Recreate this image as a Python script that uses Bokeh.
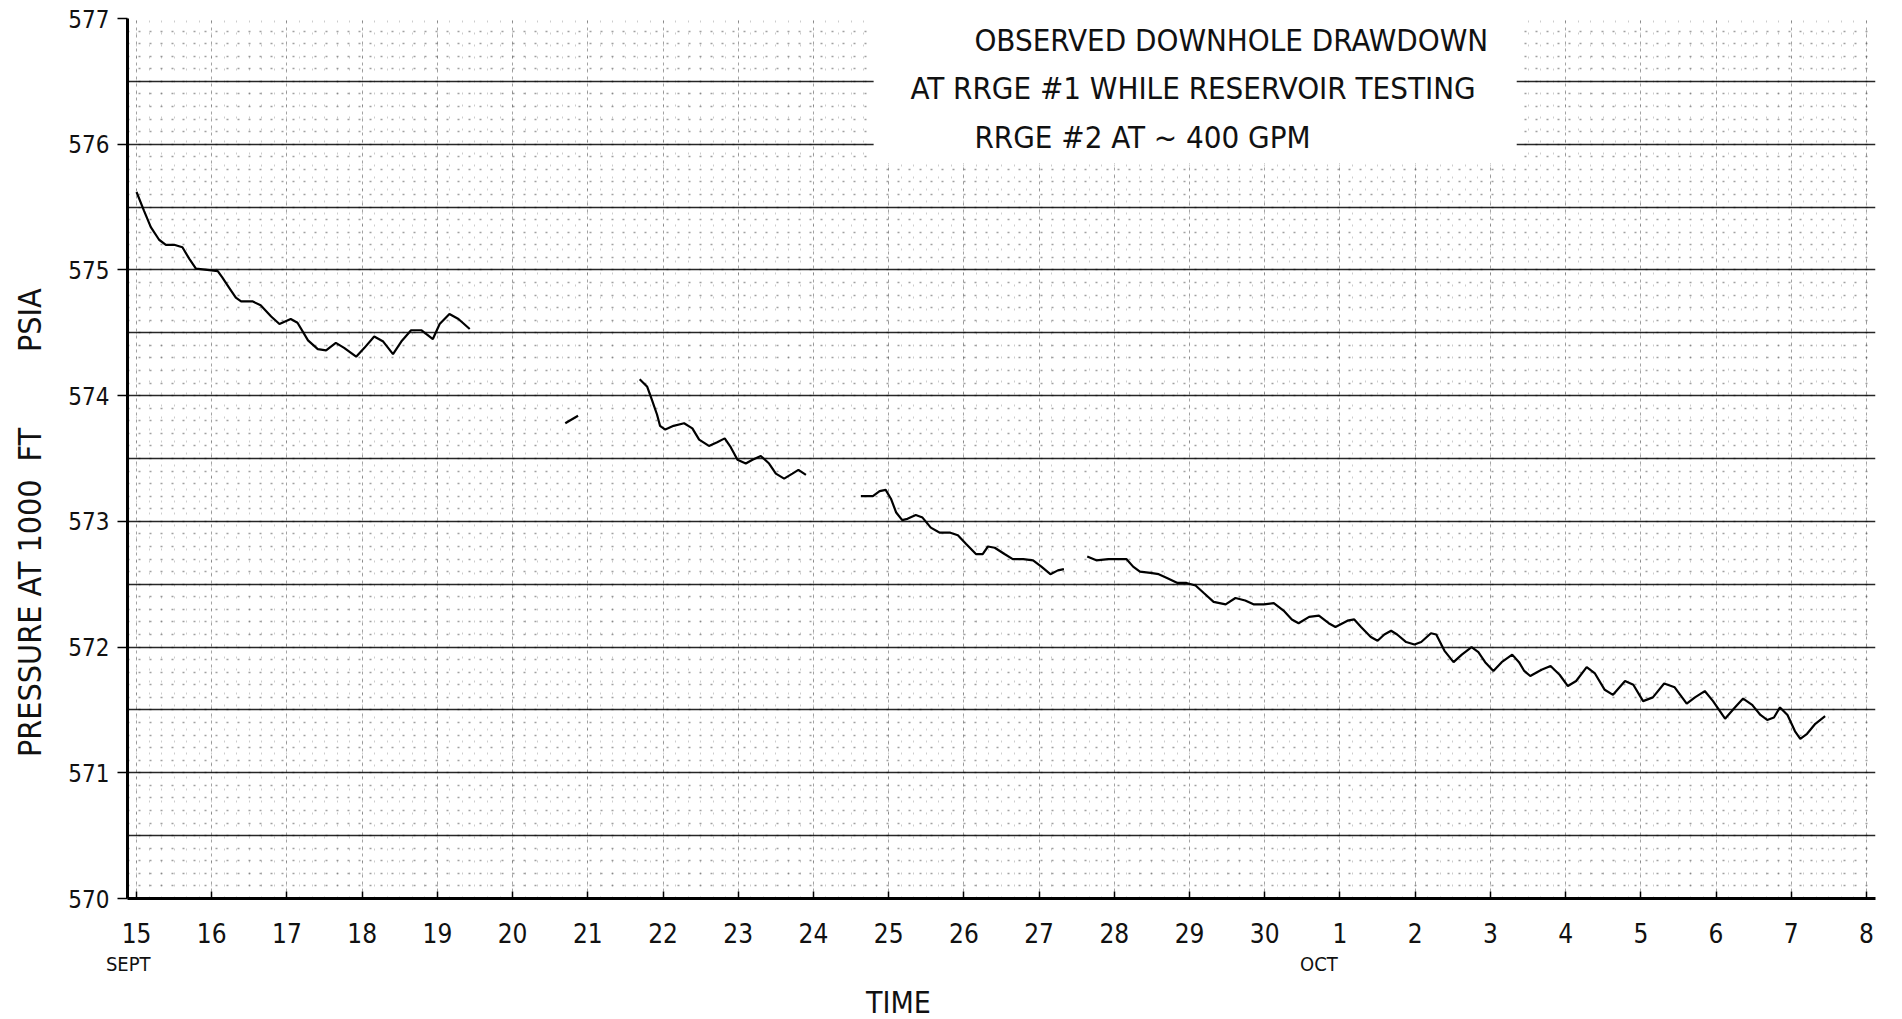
import math
from bokeh.plotting import figure
from bokeh.models import SingleIntervalTicker, FixedTicker, Label, BoxAnnotation, LinearAxis
from bokeh.embed import file_html
from bokeh.resources import INLINE

# ---------------- data (day offset from Sept 15, pressure psia) ----------------
day_labels = ["15", "16", "17", "18", "19", "20", "21", "22", "23", "24", "25",
              "26", "27", "28", "29", "30", "1", "2", "3", "4", "5", "6", "7", "8"]
psi_ticks = [570, 571, 572, 573, 574, 575, 576, 577]
psi_tick_labels = ["570", "571", "572", "573", "574", "575", "576", "577"]

seg1_day = [0.00, 0.10, 0.19, 0.30, 0.39, 0.50, 0.61, 0.70, 0.79, 0.94, 1.08, 1.14,
            1.23, 1.32, 1.39, 1.54, 1.65, 1.79, 1.90, 2.05, 2.14, 2.28, 2.41, 2.52,
            2.65, 2.76, 2.92, 3.03, 3.16, 3.28, 3.41, 3.52, 3.65, 3.79, 3.94, 4.03,
            4.16, 4.28, 4.43]
seg1_psi = [575.62, 575.47, 575.34, 575.24, 575.20, 575.20, 575.18, 575.09, 575.01,
            575.00, 574.99, 574.94, 574.86, 574.78, 574.75, 574.75, 574.72, 574.63,
            574.57, 574.61, 574.58, 574.44, 574.37, 574.36, 574.42, 574.38, 574.31,
            574.38, 574.47, 574.43, 574.33, 574.43, 574.52, 574.52, 574.45, 574.57,
            574.65, 574.61, 574.53]

seg2_day = [5.70, 5.87]
seg2_psi = [573.78, 573.84]

seg3_day = [6.69, 6.79, 6.85, 6.92, 6.96, 7.03, 7.14, 7.28, 7.39, 7.48, 7.61, 7.72,
            7.82, 7.90, 7.99, 8.10, 8.19, 8.30, 8.41, 8.50, 8.61, 8.72, 8.80, 8.90]
seg3_psi = [574.13, 574.07, 573.97, 573.85, 573.76, 573.73, 573.76, 573.78, 573.74,
            573.65, 573.60, 573.63, 573.66, 573.59, 573.49, 573.46, 573.49, 573.52,
            573.46, 573.38, 573.34, 573.38, 573.41, 573.37]

seg4_day = [9.63, 9.79, 9.88, 9.96, 10.03, 10.10, 10.18, 10.25, 10.36, 10.45, 10.56,
            10.68, 10.82, 10.92, 11.03, 11.16, 11.25, 11.32, 11.41, 11.54, 11.65,
            11.79, 11.92, 12.03, 12.15, 12.25, 12.33]
seg4_psi = [573.20, 573.20, 573.24, 573.25, 573.18, 573.07, 573.01, 573.02, 573.05,
            573.03, 572.95, 572.91, 572.91, 572.89, 572.82, 572.74, 572.74, 572.80,
            572.79, 572.74, 572.70, 572.70, 572.69, 572.64, 572.58, 572.61, 572.62]

seg5_day = [12.64, 12.76, 12.92, 13.03, 13.16, 13.25, 13.34, 13.48, 13.59, 13.70,
            13.84, 13.96, 14.08, 14.19, 14.32, 14.48, 14.61, 14.74, 14.85, 14.99,
            15.12, 15.25, 15.36, 15.45, 15.59, 15.72, 15.85, 15.94, 16.10, 16.19,
            16.28, 16.41, 16.50, 16.59, 16.68, 16.76, 16.88, 16.99, 17.08, 17.21,
            17.28, 17.39, 17.51, 17.62, 17.75, 17.84, 17.93, 18.04, 18.15, 18.29,
            18.38, 18.45, 18.53, 18.68, 18.80, 18.92, 19.03, 19.14, 19.28, 19.39,
            19.52, 19.63, 19.79, 19.90, 20.03, 20.16, 20.31, 20.45, 20.61, 20.72,
            20.85, 20.96, 21.12, 21.25, 21.36, 21.48, 21.59, 21.68, 21.77, 21.85,
            21.95, 22.05, 22.12, 22.21, 22.32, 22.45]
seg5_psi = [572.72, 572.69, 572.70, 572.70, 572.70, 572.64, 572.60, 572.59, 572.58,
            572.55, 572.51, 572.51, 572.49, 572.43, 572.36, 572.34, 572.39, 572.37,
            572.34, 572.34, 572.35, 572.29, 572.22, 572.19, 572.24, 572.25, 572.19,
            572.16, 572.21, 572.22, 572.16, 572.08, 572.05, 572.10, 572.13, 572.10,
            572.04, 572.02, 572.04, 572.11, 572.10, 571.97, 571.88, 571.94, 572.00,
            571.96, 571.88, 571.81, 571.88, 571.94, 571.88, 571.81, 571.77, 571.82,
            571.85, 571.78, 571.69, 571.73, 571.84, 571.79, 571.66, 571.62, 571.73,
            571.70, 571.57, 571.60, 571.71, 571.68, 571.55, 571.60, 571.65, 571.57,
            571.43, 571.52, 571.59, 571.54, 571.46, 571.42, 571.44, 571.52, 571.46,
            571.33, 571.27, 571.31, 571.39, 571.45]

segments = [(seg1_day, seg1_psi), (seg2_day, seg2_psi), (seg3_day, seg3_psi),
            (seg4_day, seg4_psi), (seg5_day, seg5_psi)]

title_lines = ["OBSERVED DOWNHOLE DRAWDOWN",
               "AT RRGE #1  WHILE RESERVOIR TESTING",
               "RRGE #2 AT ~ 400 GPM"]
ylabel_parts = ["PRESSURE AT 1000", "FT", "PSIA"]
month_labels = ["SEPT", "OCT"]
xlabel_text = "TIME"

FONT = "DejaVu Sans Condensed, Liberation Sans Narrow, Liberation Sans, sans-serif"
INK = "#111111"

# ---------------- figure ----------------
p = figure(frame_width=1748, frame_height=880,
           x_range=(-0.12, 23.12), y_range=(570, 577),
           min_border_left=127, min_border_right=20,
           min_border_top=18, min_border_bottom=114,
           output_backend="svg", toolbar_location=None,
           background_fill_color="white", border_fill_color="white")
p.outline_line_color = None

# grid (graph paper look)
p.ygrid.ticker = SingleIntervalTicker(interval=0.5, num_minor_ticks=5)
p.ygrid.grid_line_color = "black"
p.ygrid.grid_line_width = 1.5
p.ygrid.grid_line_alpha = 0.85
p.ygrid.minor_grid_line_color = "#444444"
p.ygrid.minor_grid_line_dash = "2 9"
p.ygrid.minor_grid_line_width = 1.5
p.ygrid.minor_grid_line_alpha = 0.5

p.xgrid.ticker = SingleIntervalTicker(interval=1, num_minor_ticks=6)
p.xgrid.grid_line_color = "#333333"
p.xgrid.grid_line_dash = "3 4"
p.xgrid.grid_line_alpha = 0.45
p.xgrid.minor_grid_line_color = "#555555"
p.xgrid.minor_grid_line_dash = "2 10"
p.xgrid.minor_grid_line_alpha = 0.3

# main axes
p.xaxis.ticker = FixedTicker(ticks=list(range(len(day_labels))))
p.xaxis.major_label_overrides = {i: lab for i, lab in enumerate(day_labels)}
p.xaxis.axis_line_width = 3
p.xaxis.axis_line_color = "black"
p.xaxis.major_tick_in = 7
p.xaxis.major_tick_out = 0
p.xaxis.major_tick_line_width = 1.5
p.xaxis.minor_tick_line_color = None
p.xaxis.major_label_text_font = FONT
p.xaxis.major_label_text_font_size = "26px"
p.xaxis.major_label_text_color = INK
p.xaxis.major_label_standoff = 24

p.yaxis.ticker = FixedTicker(ticks=psi_ticks)
p.yaxis.major_label_overrides = {t: lab for t, lab in zip(psi_ticks, psi_tick_labels)}
p.yaxis.axis_line_width = 3
p.yaxis.axis_line_color = "black"
p.yaxis.major_tick_in = 0
p.yaxis.major_tick_out = 10
p.yaxis.major_tick_line_width = 1.5
p.yaxis.minor_tick_line_color = None
p.yaxis.major_label_text_font = FONT
p.yaxis.major_label_text_font_size = "24px"
p.yaxis.major_label_text_color = INK
p.yaxis.major_label_standoff = 8


def text_axis(ticks, labels, size, standoff, orientation="horizontal"):
    ax = LinearAxis(ticker=FixedTicker(ticks=ticks),
                    major_label_overrides={t: s for t, s in zip(ticks, labels)},
                    axis_line_color=None, major_tick_line_color=None,
                    minor_tick_line_color=None,
                    major_label_orientation=orientation,
                    major_label_standoff=standoff,
                    major_label_text_font=FONT,
                    major_label_text_font_size=size,
                    major_label_text_color=INK)
    return ax


# y-axis title pieces (parallel to the axis), centred on their pressure positions
p.add_layout(text_axis([572.23, 573.61, 574.60], ylabel_parts, "32px", 10,
                       orientation="parallel"), "left")
# month markers under the day labels
p.add_layout(text_axis([-0.11, 15.72], month_labels, "20px", 0), "below")
# x-axis title
p.add_layout(text_axis([10.13], [xlabel_text], "30px", 0), "below")

# white paper area behind the title
p.add_layout(BoxAnnotation(left=9.8, right=18.35, bottom=575.85, top=577.0,
                           fill_color="white", fill_alpha=1.0, line_color=None,
                           level="underlay"))

# data traces
for d, v in segments:
    p.line(d, v, line_color="black", line_width=2.2)

# title block
title_pos = [(11.14, 576.83), (10.29, 576.45), (11.14, 576.06)]
for txt, (tx, ty) in zip(title_lines, title_pos):
    p.add_layout(Label(x=tx, y=ty, text=txt, text_font=FONT, text_font_size="31px",
                       text_align="left", text_baseline="middle", text_color=INK))

open("out.html", "w").write(file_html(p, INLINE))
